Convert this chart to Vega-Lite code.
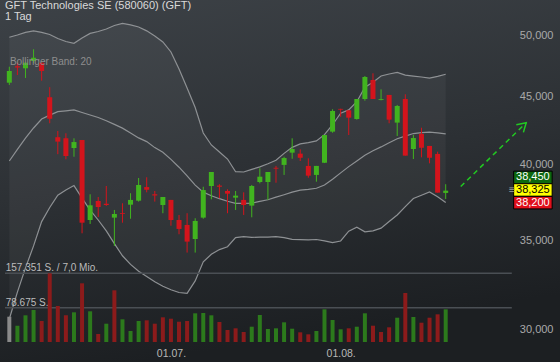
{
  "$schema": "https://vega.github.io/schema/vega-lite/v6.json",
  "width": 560,
  "height": 362,
  "padding": 0,
  "autosize": {"type": "none"},
  "background": "#2b2f33",
  "config": {
    "view": {"stroke": null, "fill": {"gradient": "linear", "x1": 0, "y1": 0, "x2": 0.25, "y2": 1, "stops": [{"offset": 0, "color": "#3d4247"}, {"offset": 0.55, "color": "#2c3034"}, {"offset": 1, "color": "#1c1f22"}]}},
    "font": "Liberation Sans"
  },
  "title": {
    "text": "GFT Technologies SE (580060) (GFT)",
    "subtitle": "1 Tag",
    "anchor": "start",
    "frame": "group",
    "offset": -22,
    "dx": 5,
    "fontSize": 11,
    "fontWeight": "normal",
    "color": "#d9d9d9",
    "font": "Liberation Sans",
    "subtitleFont": "Liberation Sans",
    "subtitleFontSize": 11,
    "subtitleColor": "#d9d9d9",
    "subtitlePadding": 0
  },
  "resolve": {"scale": {"y": "independent"}},
  "datasets": {
    "c": [
      {"i":0,"d":"2022-06-03","o":46090,"h":47390,"l":45910,"c":47040,"v":57940,"vd":"n","bu":49880,"bm":40220,"bl":30560},
      {"i":1,"d":"2022-06-06","o":47420,"h":47720,"l":46710,"c":47330,"v":37330,"vd":"u","bu":50080,"bm":41050,"bl":32020},
      {"i":2,"d":"2022-06-07","o":47260,"h":47760,"l":46470,"c":47720,"v":61140,"vd":"u","bu":50300,"bm":41850,"bl":33400},
      {"i":3,"d":"2022-06-08","o":47860,"h":48850,"l":47700,"c":48140,"v":73280,"vd":"u","bu":50430,"bm":42600,"bl":34700},
      {"i":4,"d":"2022-06-09","o":47720,"h":47760,"l":46250,"c":47040,"v":48090,"vd":"d","bu":50300,"bm":43270,"bl":36200},
      {"i":5,"d":"2022-06-10","o":44940,"h":45730,"l":42950,"c":43290,"v":157351,"vd":"d","bu":50120,"bm":43560,"bl":37100},
      {"i":6,"d":"2022-06-13","o":41920,"h":42380,"l":40700,"c":41600,"v":82440,"vd":"d","bu":49770,"bm":43830,"bl":37900},
      {"i":7,"d":"2022-06-14","o":41840,"h":42210,"l":40340,"c":40570,"v":61140,"vd":"d","bu":49510,"bm":43890,"bl":38250},
      {"i":8,"d":"2022-06-15","o":41140,"h":41840,"l":40520,"c":41570,"v":68010,"vd":"u","bu":49360,"bm":43960,"bl":38540},
      {"i":9,"d":"2022-06-16","o":41720,"h":41720,"l":35470,"c":36130,"v":134420,"vd":"d","bu":49820,"bm":43760,"bl":37710},
      {"i":10,"d":"2022-06-17","o":36300,"h":37960,"l":36050,"c":37240,"v":70300,"vd":"u","bu":50220,"bm":43570,"bl":36930},
      {"i":11,"d":"2022-06-20","o":37520,"h":37780,"l":36490,"c":37130,"v":18320,"vd":"d","bu":50380,"bm":43380,"bl":36300},
      {"i":12,"d":"2022-06-21","o":37340,"h":38510,"l":37200,"c":37260,"v":41910,"vd":"u","bu":50600,"bm":43140,"bl":35620},
      {"i":13,"d":"2022-06-22","o":36450,"h":36940,"l":34700,"c":36680,"v":118390,"vd":"d","bu":50910,"bm":42870,"bl":34840},
      {"i":14,"d":"2022-06-23","o":36740,"h":37370,"l":36130,"c":36690,"v":51980,"vd":"u","bu":51100,"bm":42590,"bl":34110},
      {"i":15,"d":"2022-06-24","o":37280,"h":38030,"l":36380,"c":37590,"v":25190,"vd":"u","bu":50960,"bm":42230,"bl":33600},
      {"i":16,"d":"2022-06-27","o":37540,"h":39050,"l":37480,"c":38580,"v":48090,"vd":"u","bu":50780,"bm":41870,"bl":33200},
      {"i":17,"d":"2022-06-28","o":38440,"h":39100,"l":38090,"c":38260,"v":49690,"vd":"d","bu":50440,"bm":41600,"bl":32900},
      {"i":18,"d":"2022-06-29","o":37960,"h":38180,"l":37480,"c":37880,"v":41910,"vd":"d","bu":49990,"bm":41170,"bl":32600},
      {"i":19,"d":"2022-06-30","o":37260,"h":37780,"l":36730,"c":37780,"v":56560,"vd":"d","bu":49480,"bm":40840,"bl":32350},
      {"i":20,"d":"2022-07-01","o":37590,"h":37590,"l":35940,"c":36300,"v":53360,"vd":"d","bu":48620,"bm":40340,"bl":32150},
      {"i":21,"d":"2022-07-04","o":36300,"h":36620,"l":35410,"c":35740,"v":46490,"vd":"d","bu":47200,"bm":39790,"bl":32000},
      {"i":22,"d":"2022-07-05","o":35990,"h":36730,"l":34300,"c":34960,"v":48090,"vd":"d","bu":45670,"bm":39200,"bl":31950},
      {"i":23,"d":"2022-07-06","o":35120,"h":36410,"l":34300,"c":36240,"v":65720,"vd":"u","bu":44140,"bm":38570,"bl":32650},
      {"i":24,"d":"2022-07-07","o":36450,"h":38460,"l":36380,"c":38240,"v":66410,"vd":"u","bu":42230,"bm":38100,"bl":33750},
      {"i":25,"d":"2022-07-08","o":38510,"h":39460,"l":37630,"c":39460,"v":61140,"vd":"u","bu":41360,"bm":37860,"bl":34200},
      {"i":26,"d":"2022-07-11","o":38540,"h":38630,"l":37700,"c":38460,"v":45800,"vd":"d","bu":40860,"bm":37670,"bl":34480},
      {"i":27,"d":"2022-07-12","o":38180,"h":38290,"l":36730,"c":38000,"v":27480,"vd":"d","bu":40360,"bm":37500,"bl":34650},
      {"i":28,"d":"2022-07-13","o":37740,"h":38180,"l":36940,"c":37870,"v":31370,"vd":"d","bu":39480,"bm":37370,"bl":35200},
      {"i":29,"d":"2022-07-14","o":37590,"h":38090,"l":36620,"c":37260,"v":22900,"vd":"d","bu":39460,"bm":37370,"bl":35270},
      {"i":30,"d":"2022-07-15","o":37220,"h":38580,"l":36470,"c":38510,"v":35040,"vd":"u","bu":39640,"bm":37380,"bl":35220},
      {"i":31,"d":"2022-07-18","o":38780,"h":39720,"l":38690,"c":39140,"v":61830,"vd":"u","bu":39810,"bm":37490,"bl":35230},
      {"i":32,"d":"2022-07-19","o":38780,"h":39460,"l":37590,"c":39460,"v":29770,"vd":"u","bu":40030,"bm":37600,"bl":35230},
      {"i":33,"d":"2022-07-20","o":39750,"h":39880,"l":38730,"c":39690,"v":31370,"vd":"u","bu":40270,"bm":37770,"bl":35260},
      {"i":34,"d":"2022-07-21","o":39950,"h":40520,"l":39260,"c":40430,"v":45110,"vd":"u","bu":40760,"bm":37930,"bl":35200},
      {"i":35,"d":"2022-07-22","o":40810,"h":41840,"l":40380,"c":41070,"v":30460,"vd":"u","bu":41190,"bm":38100,"bl":35100},
      {"i":36,"d":"2022-07-25","o":40740,"h":41050,"l":40220,"c":40450,"v":22210,"vd":"d","bu":41440,"bm":38240,"bl":35080},
      {"i":37,"d":"2022-07-26","o":39880,"h":40410,"l":39070,"c":39210,"v":17630,"vd":"d","bu":41530,"bm":38280,"bl":35070},
      {"i":38,"d":"2022-07-27","o":39260,"h":39880,"l":38800,"c":39880,"v":25190,"vd":"u","bu":41650,"bm":38360,"bl":35090},
      {"i":39,"d":"2022-07-28","o":40100,"h":42080,"l":40080,"c":42080,"v":74880,"vd":"u","bu":42110,"bm":38580,"bl":35000},
      {"i":40,"d":"2022-07-29","o":42330,"h":44010,"l":42250,"c":43880,"v":50380,"vd":"u","bu":42840,"bm":38970,"bl":34900},
      {"i":41,"d":"2022-08-01","o":44040,"h":44050,"l":43440,"c":43980,"v":29080,"vd":"u","bu":43710,"bm":39400,"bl":35000},
      {"i":42,"d":"2022-08-02","o":43930,"h":43930,"l":42080,"c":43370,"v":31370,"vd":"d","bu":43960,"bm":39830,"bl":35600},
      {"i":43,"d":"2022-08-03","o":43270,"h":44800,"l":43220,"c":44800,"v":35040,"vd":"u","bu":44590,"bm":40230,"bl":35850},
      {"i":44,"d":"2022-08-04","o":44800,"h":46630,"l":44670,"c":46550,"v":65720,"vd":"u","bu":45730,"bm":40630,"bl":35560},
      {"i":45,"d":"2022-08-05","o":46310,"h":46850,"l":44800,"c":44800,"v":37330,"vd":"d","bu":46130,"bm":40940,"bl":35620},
      {"i":46,"d":"2022-08-08","o":44720,"h":45560,"l":44700,"c":44790,"v":22900,"vd":"d","bu":46630,"bm":41220,"bl":35790},
      {"i":47,"d":"2022-08-09","o":45120,"h":45120,"l":42950,"c":43220,"v":33660,"vd":"d","bu":46790,"bm":41520,"bl":36200},
      {"i":48,"d":"2022-08-10","o":43000,"h":44340,"l":42010,"c":44260,"v":55650,"vd":"u","bu":46920,"bm":41810,"bl":36620},
      {"i":49,"d":"2022-08-11","o":44800,"h":45170,"l":40600,"c":40600,"v":112210,"vd":"d","bu":46700,"bm":42000,"bl":37150},
      {"i":50,"d":"2022-08-12","o":41070,"h":42080,"l":40360,"c":41860,"v":57250,"vd":"u","bu":46620,"bm":42190,"bl":37680},
      {"i":51,"d":"2022-08-15","o":42160,"h":42620,"l":40480,"c":41160,"v":44200,"vd":"d","bu":46550,"bm":42250,"bl":37900},
      {"i":52,"d":"2022-08-16","o":41290,"h":41290,"l":40060,"c":40450,"v":55650,"vd":"d","bu":46460,"bm":42300,"bl":38110},
      {"i":53,"d":"2022-08-17","o":40720,"h":40880,"l":38070,"c":38070,"v":63430,"vd":"d","bu":46600,"bm":42240,"bl":37800},
      {"i":54,"d":"2022-08-18","o":38050,"h":38630,"l":37650,"c":38200,"v":74880,"vd":"u","bu":46770,"bm":42160,"bl":37420}
    ],
    "vlab": [
      {"lv": 157351, "t": "157.351 S. / 7,0 Mio."},
      {"lv": 78675, "t": "78.675 S."}
    ],
    "arrow": [
      {"i": 55.86, "p": 38478, "end": false},
      {"i": 63.96, "p": 42994, "end": true}
    ],
    "tags": [
      {"k": "hi", "t": "38,450", "p": 38450},
      {"k": "last", "t": "38,325", "p": 38325},
      {"k": "lo", "t": "38,200", "p": 38200}
    ],
    "notes": [
      {"t": "Bollinger Band: 20"}
    ]
  },
  "layer": [
    {
      "data": {"name": "c"},
      "mark": {"type": "area", "color": "#ffffff", "opacity": 0.045},
      "encoding": {
        "x": {"field": "i", "type": "quantitative", "title": null, "scale": {"domain": [-0.535, 67.525], "nice": false, "zero": false},
              "axis": {"orient": "bottom", "values": [20, 41], "labelExpr": "datum.value == 20 ? '01.07.' : '01.08.'", "ticks": false, "tickSize": 0, "domain": false, "grid": false, "labelPadding": -14, "labelFontSize": 10.5, "labelColor": "#b8b8b8", "labelFont": "Liberation Sans", "labelOverlap": false, "labelFlush": false}},
        "y": {"field": "bu", "type": "quantitative", "axis": null, "scale": {"type": "log", "domain": [28356, 53220], "nice": false, "zero": false}},
        "y2": {"field": "bl"}
      }
    },
    {
      "data": {"name": "c"},
      "mark": {"type": "line", "color": "#8e9194", "strokeWidth": 1.2},
      "encoding": {
        "x": {"field": "i", "type": "quantitative", "title": null, "scale": {"domain": [-0.535, 67.525], "nice": false, "zero": false}},
        "y": {"field": "bu", "type": "quantitative", "axis": null, "scale": {"type": "log", "domain": [28356, 53220], "nice": false, "zero": false}}
      }
    },
    {
      "data": {"name": "c"},
      "mark": {"type": "line", "color": "#8e9194", "strokeWidth": 1.2},
      "encoding": {
        "x": {"field": "i", "type": "quantitative", "title": null, "scale": {"domain": [-0.535, 67.525], "nice": false, "zero": false}},
        "y": {"field": "bm", "type": "quantitative", "title": null, "scale": {"type": "log", "domain": [28356, 53220], "nice": false, "zero": false},
              "axis": {"orient": "right", "values": [30000, 35000, 40000, 45000, 50000], "format": ",", "ticks": false, "tickSize": 0, "domain": false, "grid": false, "labelAlign": "right", "labelBaseline": "middle", "labelPadding": -7, "labelFontSize": 11, "labelColor": "#a9a9a9", "labelFont": "Liberation Sans", "labelOverlap": false, "labelFlush": false}}
      }
    },
    {
      "data": {"name": "c"},
      "mark": {"type": "line", "color": "#8e9194", "strokeWidth": 1.2},
      "encoding": {
        "x": {"field": "i", "type": "quantitative", "title": null, "scale": {"domain": [-0.535, 67.525], "nice": false, "zero": false}},
        "y": {"field": "bl", "type": "quantitative", "axis": null, "scale": {"type": "log", "domain": [28356, 53220], "nice": false, "zero": false}}
      }
    },
    {
      "data": {"name": "vlab"},
      "mark": {"type": "rule", "color": "#4a4f54", "strokeWidth": 1.5},
      "encoding": {
        "x": {"datum": -0.535, "type": "quantitative", "title": null, "scale": {"domain": [-0.535, 67.525], "nice": false, "zero": false}},
        "x2": {"datum": 62.18},
        "y": {"field": "lv", "type": "quantitative", "axis": null, "scale": {"domain": [-45808, 783320], "nice": false, "zero": false}}
      }
    },
    {
      "data": {"name": "vlab"},
      "mark": {"type": "text", "align": "left", "baseline": "alphabetic", "dy": -2, "fontSize": 10, "color": "#bcbcbc", "font": "Liberation Sans"},
      "encoding": {
        "x": {"datum": -0.45, "type": "quantitative", "title": null, "scale": {"domain": [-0.535, 67.525], "nice": false, "zero": false}},
        "y": {"field": "lv", "type": "quantitative", "axis": null, "scale": {"domain": [-45808, 783320], "nice": false, "zero": false}},
        "text": {"field": "t"}
      }
    },
    {
      "data": {"name": "c"},
      "mark": {"type": "bar", "size": 4},
      "encoding": {
        "x": {"field": "i", "type": "quantitative", "title": null, "scale": {"domain": [-0.535, 67.525], "nice": false, "zero": false}},
        "y": {"field": "v", "type": "quantitative", "axis": null, "scale": {"domain": [-45808, 783320], "nice": false, "zero": false}},
        "y2": {"datum": 0},
        "color": {"field": "vd", "type": "nominal", "legend": null, "scale": {"domain": ["u", "d", "n"], "range": ["#2c7a1c", "#8c1b1b", "#8a8a8a"]}}
      }
    },
    {
      "data": {"name": "c"},
      "mark": {"type": "rule", "strokeWidth": 1},
      "encoding": {
        "x": {"field": "i", "type": "quantitative", "title": null, "scale": {"domain": [-0.535, 67.525], "nice": false, "zero": false}},
        "y": {"field": "h", "type": "quantitative", "axis": null, "scale": {"type": "log", "domain": [28356, 53220], "nice": false, "zero": false}},
        "y2": {"field": "l"},
        "color": {"condition": {"test": "datum.c >= datum.o", "value": "#41b41f"}, "value": "#d3141c"}
      }
    },
    {
      "data": {"name": "c"},
      "mark": {"type": "bar", "size": 5},
      "encoding": {
        "x": {"field": "i", "type": "quantitative", "title": null, "scale": {"domain": [-0.535, 67.525], "nice": false, "zero": false}},
        "y": {"field": "o", "type": "quantitative", "axis": null, "scale": {"type": "log", "domain": [28356, 53220], "nice": false, "zero": false}},
        "y2": {"field": "c"},
        "color": {"condition": {"test": "datum.c >= datum.o", "value": "#41b41f"}, "value": "#d3141c"}
      }
    },
    {
      "data": {"name": "arrow"},
      "mark": {"type": "line", "color": "#22c922", "strokeWidth": 1.5, "strokeDash": [5, 4]},
      "encoding": {
        "x": {"field": "i", "type": "quantitative", "title": null, "scale": {"domain": [-0.535, 67.525], "nice": false, "zero": false}},
        "y": {"field": "p", "type": "quantitative", "axis": null, "scale": {"type": "log", "domain": [28356, 53220], "nice": false, "zero": false}}
      }
    },
    {
      "data": {"name": "arrow"},
      "transform": [{"filter": "datum.end"}],
      "mark": {"type": "point", "shape": "M-1,-0.6L0,0L-1,0.6", "size": 300, "angle": 317, "filled": false, "stroke": "#22c922", "strokeWidth": 1.5, "opacity": 1},
      "encoding": {
        "x": {"field": "i", "type": "quantitative", "title": null, "scale": {"domain": [-0.535, 67.525], "nice": false, "zero": false}},
        "y": {"field": "p", "type": "quantitative", "axis": null, "scale": {"type": "log", "domain": [28356, 53220], "nice": false, "zero": false}}
      }
    },
    {
      "data": {"name": "tags"},
      "mark": {"type": "point", "shape": "M-1,-0.325H1V0.325H-1Z", "size": 1482, "filled": true, "stroke": "#000000", "strokeWidth": 1, "opacity": 1, "strokeOpacity": 1, "fillOpacity": 1,
               "yOffset": {"expr": "datum.k == 'hi' ? -9.5 : datum.k == 'lo' ? 12 : 1.2"}},
      "encoding": {
        "x": {"datum": 64.79, "type": "quantitative", "title": null, "scale": {"domain": [-0.535, 67.525], "nice": false, "zero": false}},
        "y": {"field": "p", "type": "quantitative", "axis": null, "scale": {"type": "log", "domain": [28356, 53220], "nice": false, "zero": false}},
        "fill": {"condition": [{"test": "datum.k == 'hi'", "value": "#0d680f"}, {"test": "datum.k == 'last'", "value": "#ffff00"}], "value": "#e0101c"}
      }
    },
    {
      "data": {"name": "tags"},
      "mark": {"type": "text", "align": "center", "baseline": "middle", "fontSize": 11, "font": "Liberation Sans",
               "yOffset": {"expr": "datum.k == 'hi' ? -9.5 : datum.k == 'lo' ? 12 : 1.2"}},
      "encoding": {
        "x": {"datum": 64.79, "type": "quantitative", "title": null, "scale": {"domain": [-0.535, 67.525], "nice": false, "zero": false}},
        "y": {"field": "p", "type": "quantitative", "axis": null, "scale": {"type": "log", "domain": [28356, 53220], "nice": false, "zero": false}},
        "text": {"field": "t"},
        "color": {"condition": {"test": "datum.k == 'last'", "value": "#000000"}, "value": "#ffffff"}
      }
    },
    {
      "data": {"name": "tags"},
      "transform": [{"filter": "datum.k == 'last'"}],
      "mark": {"type": "text", "text": "≡", "align": "center", "baseline": "middle", "fontSize": 10, "color": "#a0a0a0", "yOffset": 1.2},
      "encoding": {
        "x": {"datum": 62.18, "type": "quantitative", "title": null, "scale": {"domain": [-0.535, 67.525], "nice": false, "zero": false}},
        "y": {"field": "p", "type": "quantitative", "axis": null, "scale": {"type": "log", "domain": [28356, 53220], "nice": false, "zero": false}}
      }
    },
    {
      "data": {"name": "notes"},
      "mark": {"type": "text", "align": "left", "baseline": "alphabetic", "fontSize": 10, "color": "#8e8e8e", "font": "Liberation Sans"},
      "encoding": {
        "x": {"datum": 0.07, "type": "quantitative", "title": null, "scale": {"domain": [-0.535, 67.525], "nice": false, "zero": false}},
        "y": {"datum": 47572, "type": "quantitative", "axis": null, "scale": {"type": "log", "domain": [28356, 53220], "nice": false, "zero": false}},
        "text": {"field": "t"}
      }
    }
  ]
}
